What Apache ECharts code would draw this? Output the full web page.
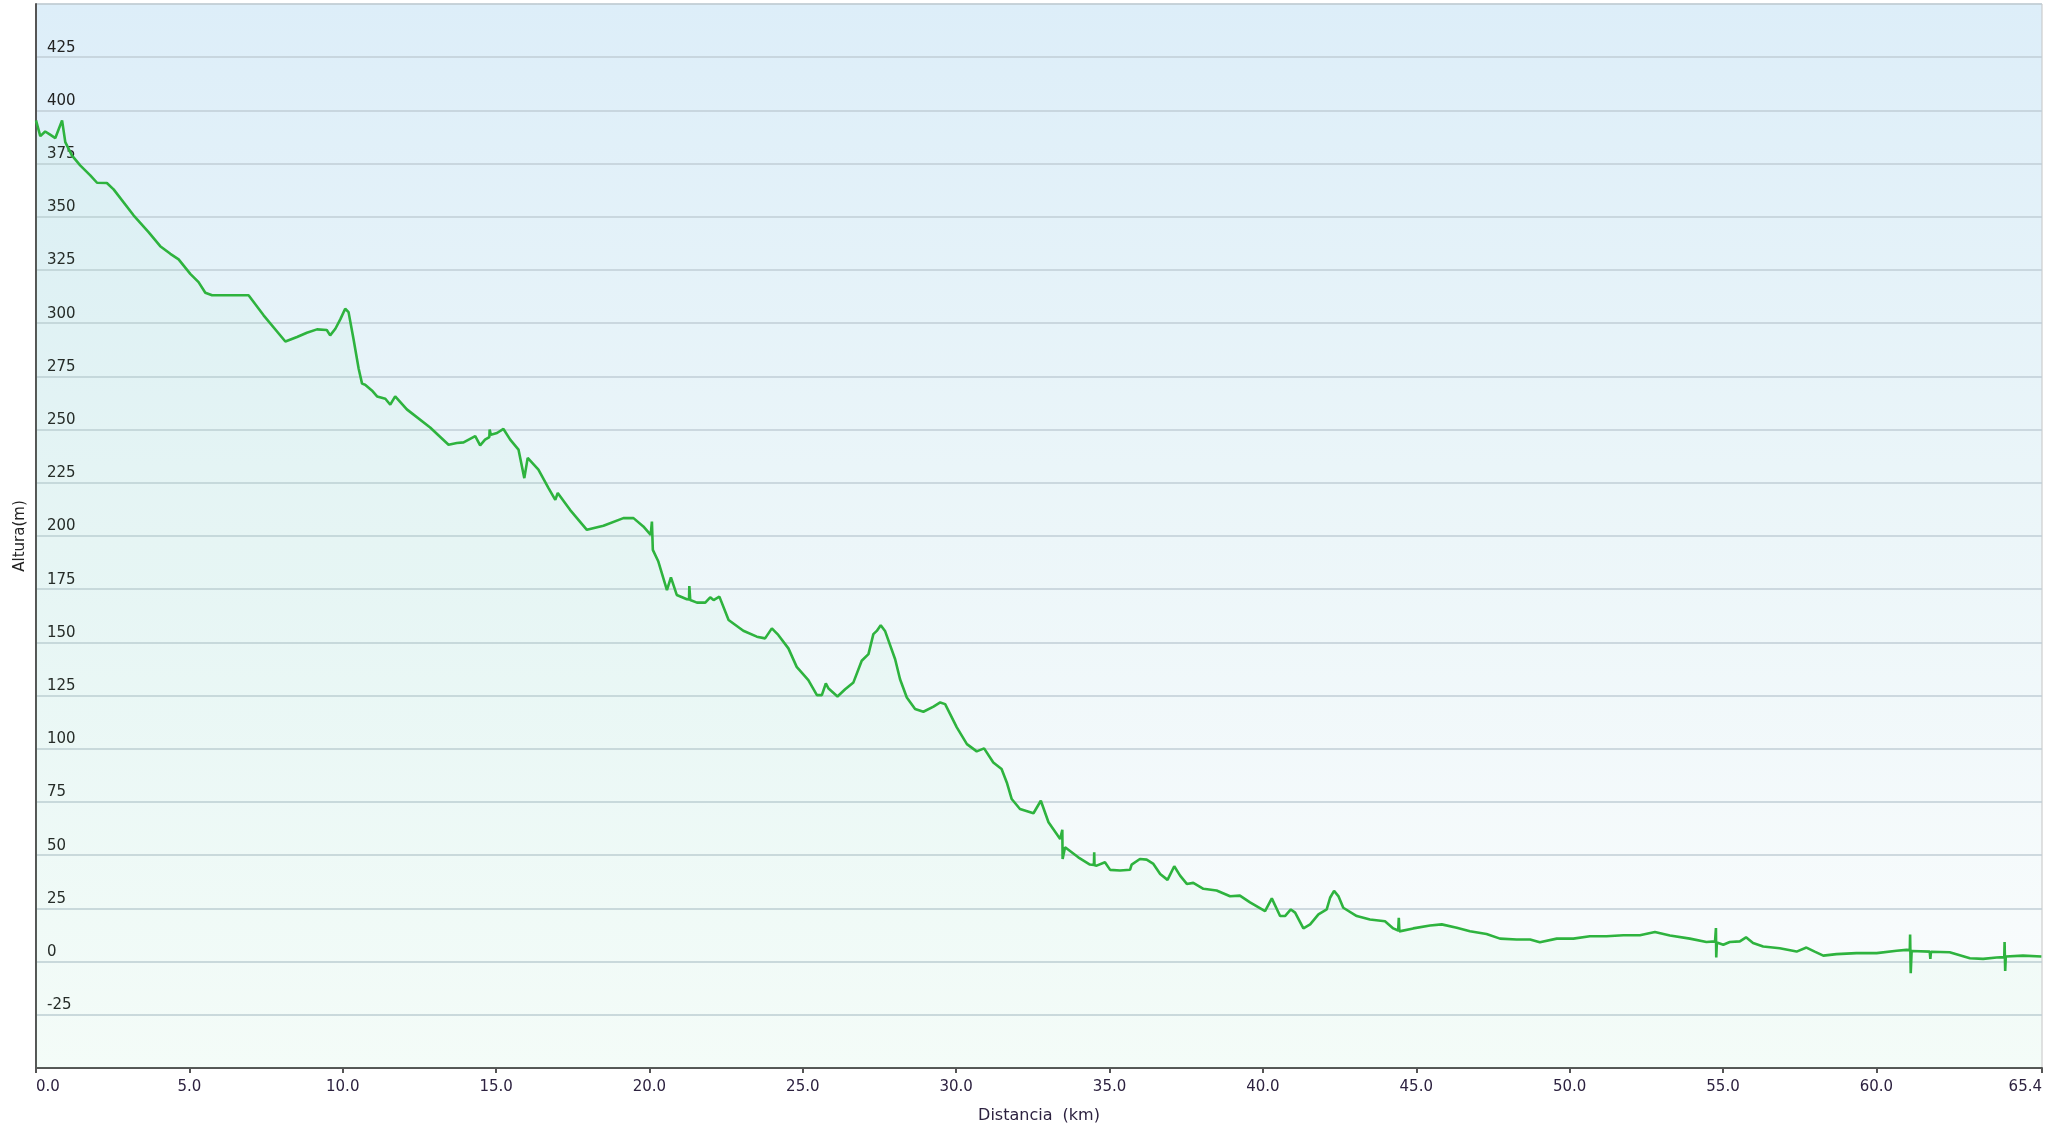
<!DOCTYPE html>
<html>
<head>
<meta charset="utf-8">
<script src="https://cdn.jsdelivr.net/npm/echarts@6/dist/echarts.min.js"></script>
<style>
html,body{margin:0;padding:0;background:#fff;}
#chart{width:2048px;height:1133px;}
</style>
</head>
<body>
<div id="chart"></div>
<script>
// Distance (km)
const distKm = [
0.00,0.14,0.30,0.46,0.63,0.85,0.955,1.17,1.44,1.77,1.99,2.31,2.53,3.18,3.67,4.05,4.38,4.65,5.03,5.30,
5.52,5.74,6.93,7.42,8.13,8.51,8.83,9.16,9.48,9.59,9.76,9.92,10.08,10.19,10.35,10.52,10.63,10.73,10.95,11.12,
11.39,11.55,11.71,12.09,12.85,13.45,13.72,13.94,14.32,14.48,14.64,14.78,14.79,14.83,15.03,15.24,15.46,15.73,15.92,16.03,16.38,
16.71,16.93,17.01,17.41,17.96,18.50,19.15,19.48,19.80,20.04,20.08,20.11,20.29,20.57,20.70,20.89,21.22,21.29,21.30,21.33,21.55,
21.82,21.98,22.09,22.28,22.58,23.06,23.50,23.77,23.99,24.20,24.53,24.80,25.18,25.46,25.62,25.75,25.84,26.13,26.38,26.65,
26.92,27.14,27.30,27.41,27.54,27.68,28.01,28.17,28.39,28.66,28.93,29.26,29.48,29.64,30.02,30.35,30.67,30.91,31.21,31.48,
31.65,31.81,32.08,32.52,32.76,33.01,33.39,33.45,33.46,33.47,33.55,33.98,34.36,34.49,34.50,34.51,34.58,34.85,35.02,35.34,35.67,
35.72,35.99,36.21,36.43,36.65,36.89,37.11,37.30,37.52,37.73,38.06,38.49,38.93,39.25,39.58,40.07,40.29,40.56,40.72,40.91,
41.05,41.32,41.54,41.81,42.08,42.19,42.32,42.46,42.62,43.06,43.49,43.98,44.25,44.41,44.43,44.45,44.50,44.90,45.45,45.83,
46.32,46.75,47.29,47.73,48.27,48.71,49.03,49.58,50.12,50.66,51.20,51.75,52.29,52.78,53.27,53.92,54.46,54.74,54.76,54.77,54.78,
54.80,55.01,55.22,55.55,55.75,55.98,56.31,56.85,57.40,57.72,57.99,58.27,58.70,59.35,60.01,60.66,60.98,61.09,61.10,61.12,61.15,
61.20,61.74,61.76,61.78,62.39,63.05,63.48,63.92,64.17,64.18,64.20,64.22,64.78,65.38
];
// Altitude (m)
const altM = [
395.3,387.9,390.1,388.6,387.0,395.3,385.1,378.9,374.2,369.5,366.0,365.9,362.9,350.7,342.8,336.2,332.6,330.0,323.2,319.3,
314.3,313.1,313.1,303.7,291.4,293.5,295.5,297.1,296.8,294.3,297.4,301.8,306.8,305.2,292.7,278.6,271.6,271.1,268.4,265.6,
264.5,261.7,265.6,259.5,251.0,242.9,243.7,244.0,246.9,242.6,245.3,246.5,250.0,247.6,248.4,250.3,245.3,240.6,227.2,236.7,231.2,
222.5,217.0,220.2,212.3,202.9,204.8,208.4,208.4,204.5,200.5,206.8,193.5,188.0,174.6,180.6,172.3,170.3,170.2,176.5,169.9,168.7,
168.7,171.2,169.9,171.5,160.5,155.5,152.7,151.9,156.6,153.5,147.2,138.5,132.3,125.2,125.2,130.7,128.3,124.6,128.0,131.2,
141.4,144.5,153.9,155.4,158.1,155.4,142.1,132.7,124.1,118.7,117.4,119.8,121.8,121.0,110.1,102.2,98.8,100.2,93.6,90.5,
84.2,76.4,71.7,69.7,75.6,65.5,57.6,56.8,61.9,48.2,53.7,49.0,45.6,45.4,51.4,45.3,45.1,46.7,43.1,42.8,43.2,
45.6,48.2,47.9,45.9,41.2,38.4,44.8,40.4,36.5,37.0,34.2,33.4,30.7,31.0,27.8,23.7,29.7,21.4,21.4,24.5,
23.0,15.6,17.5,22.2,24.5,30.0,33.2,30.8,25.3,21.4,19.8,19.0,15.6,14.6,20.6,14.2,14.0,15.6,17.0,17.5,
15.9,14.3,13.0,10.8,10.4,10.4,9.1,10.8,10.8,11.9,11.9,12.4,12.4,13.9,12.3,10.8,9.2,9.5,9.3,15.8,1.9,
9.0,7.9,9.2,9.5,11.4,8.7,7.1,6.3,4.7,6.6,4.7,2.8,3.5,4.0,4.0,5.1,5.5,5.4,12.7,-5.5,5.0,
4.4,4.7,1.3,4.6,4.4,1.6,1.3,1.9,2.1,9.2,-4.4,2.4,2.8,2.4
];
// X tick values
const xTicks = [0,5,10,15,20,25,30,35,40,45,50,55,60,65.4];

const chart = echarts.init(document.getElementById('chart'), null, {renderer:'canvas'});
const font = 'DejaVu Sans, Verdana, sans-serif';
chart.setOption({
  animation: false,
  backgroundColor: '#ffffff',
  grid: {
    left: 36, right: 6, top: 4, bottom: 65,
    show: true,
    borderColor: '#c4c4c4', borderWidth: 1,
    outerBoundsMode: 'none',
    backgroundColor: {
      type: 'linear', x: 0, y: 0, x2: 0, y2: 1,
      colorStops: [
        {offset: 0, color: '#ddeef9'},
        {offset: 0.5, color: '#ecf6f9'},
        {offset: 1, color: '#fbfdfd'}
      ]
    }
  },
  xAxis: {
    type: 'value', min: 0, max: 65.4,
    name: 'Distancia  (km)', nameLocation: 'middle', nameGap: 40,
    nameTextStyle: {color: '#2d2240', fontSize: 16, fontFamily: font},
    axisLine: {show: true, onZero: false, lineStyle: {color: '#555', width: 2}},
    axisTick: {show: true, length: 5, lineStyle: {color: '#555', width: 2}, customValues: xTicks},
    axisLabel: {
      customValues: xTicks,
      formatter: v => v.toFixed(1),
      color: '#2d2240', fontSize: 15, fontFamily: font, margin: 12,
      alignMinLabel: 'left', alignMaxLabel: 'right'
    },
    splitLine: {show: false}
  },
  yAxis: {
    type: 'value', min: -50, max: 450, interval: 25,
    name: 'Altura(m)', nameLocation: 'middle', nameGap: 7, nameRotate: 90,
    nameTextStyle: {color: '#222', fontSize: 15, fontFamily: font},
    axisLine: {show: true, onZero: false, lineStyle: {color: '#555', width: 2}},
    axisTick: {show: false},
    axisLabel: {
      inside: true, margin: 11, verticalAlign: 'bottom',
      showMinLabel: false, showMaxLabel: false,
      color: '#222', fontSize: 15, fontFamily: font, padding: [0,0,2,0]
    },
    splitLine: {show: true, lineStyle: {color: '#c0ced6', width: 1.5}}
  },
  series: [{
    type: 'line',
    data: distKm.map((d, i) => [d, altM[i]]),
    showSymbol: false,
    lineStyle: {color: '#2eb33e', width: 2.6},
    areaStyle: {color: 'rgba(110,235,150,0.07)', origin: 'start'},
    z: 5
  }]
});
</script>
</body>
</html>
